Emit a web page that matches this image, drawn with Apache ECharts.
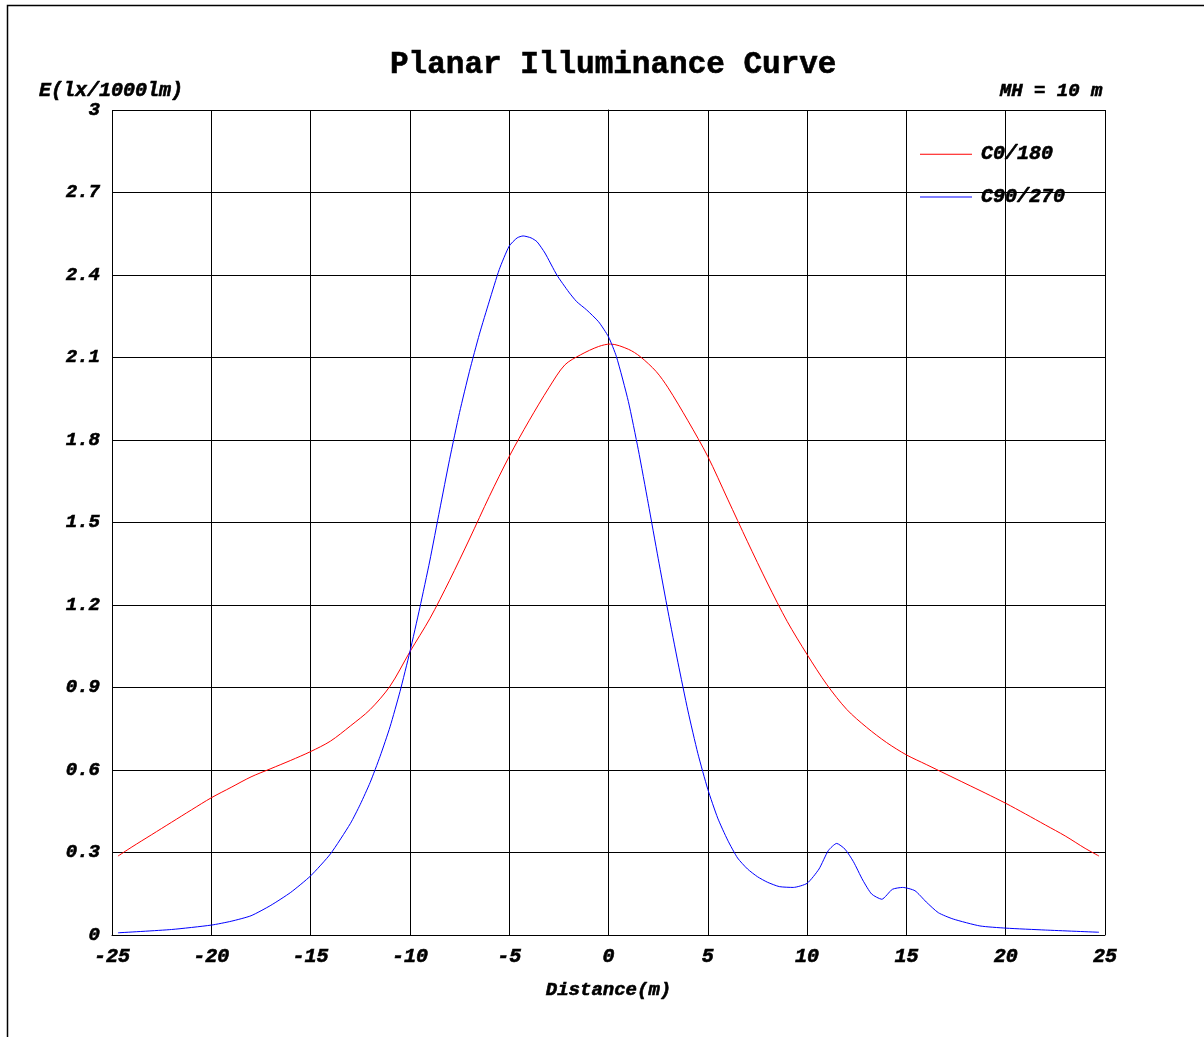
<!DOCTYPE html>
<html>
<head>
<meta charset="utf-8">
<script src="https://cdn.jsdelivr.net/npm/echarts@6/dist/echarts.min.js"></script>
<style>
html, body { margin: 0; padding: 0; background: #fff; }
#main { width: 1204px; height: 1037px; }
</style>
</head>
<body>
<div id="main"></div>
<script>
// distance ticks (m) and illuminance ticks
var xTicks = [-25, -20, -15, -10, -5, 0, 5, 10, 15, 20, 25];
var yTicks = [0, 0.3, 0.6, 0.9, 1.2, 1.5, 1.8, 2.1, 2.4, 2.7, 3];

// C0/180 plane
var c0Dist = [-24.7, -24, -23, -22, -21, -20, -19, -18, -17, -16, -15, -14, -13, -12, -11, -10, -9, -8, -7, -6, -5, -4, -3, -2.2, -1.4, -0.5, 0.1, 1, 1.6, 2.4, 3, 4, 5, 6, 7, 8, 9, 10, 11, 12, 13, 14, 15, 16, 17, 18, 19, 20, 21, 22, 23, 24, 24.7];
var c0Vals = [0.287, 0.32, 0.365, 0.41, 0.455, 0.499, 0.537, 0.575, 0.605, 0.635, 0.667, 0.705, 0.76, 0.82, 0.905, 1.03, 1.15, 1.29, 1.44, 1.595, 1.74, 1.87, 1.99, 2.073, 2.11, 2.14, 2.149, 2.13, 2.103, 2.049, 1.99, 1.87, 1.74, 1.585, 1.43, 1.28, 1.14, 1.02, 0.91, 0.82, 0.755, 0.7, 0.655, 0.62, 0.585, 0.55, 0.515, 0.479, 0.44, 0.4, 0.36, 0.315, 0.287];

// C90/270 plane
var c90Dist = [-24.7, -22, -20, -19, -18, -17, -16, -15, -14, -13, -12.5, -12, -11.5, -11, -10.5, -10, -9.5, -9, -8.5, -8, -7.5, -7, -6.5, -6, -5.5, -5, -4.6, -4.3, -3.9, -3.6, -3.2, -2.6, -2, -1.6, -1.1, -0.5, 0, 0.4, 1, 1.5, 2, 2.5, 3, 3.5, 4, 4.5, 5, 5.5, 6, 6.5, 7, 7.5, 8, 8.6, 9.3, 10, 10.6, 11.07, 11.49, 11.91, 12.33, 12.8, 13.25, 13.76, 14.29, 14.81, 15.43, 16, 16.61, 17.36, 18.7, 20, 22, 24.7];
var c90Vals = [0.008, 0.02, 0.036, 0.05, 0.07, 0.108, 0.155, 0.215, 0.295, 0.405, 0.475, 0.555, 0.65, 0.757, 0.885, 1.03, 1.19, 1.36, 1.546, 1.73, 1.9, 2.05, 2.185, 2.305, 2.42, 2.505, 2.535, 2.542, 2.535, 2.521, 2.48, 2.4, 2.338, 2.303, 2.273, 2.23, 2.175, 2.103, 1.94, 1.765, 1.57, 1.37, 1.175, 0.99, 0.815, 0.66, 0.53, 0.425, 0.345, 0.28, 0.24, 0.212, 0.192, 0.176, 0.173, 0.188, 0.24, 0.307, 0.333, 0.312, 0.267, 0.2, 0.149, 0.13, 0.166, 0.173, 0.161, 0.12, 0.081, 0.058, 0.033, 0.025, 0.018, 0.01];

function pairs(xs, ys) {
    var out = [];
    for (var i = 0; i < xs.length; i++) {
        out.push([xs[i], ys[i]]);
    }
    return out;
}

var font = '"Liberation Mono", "DejaVu Sans Mono", monospace';

// bold italic label text, a bit heavier like the original print
function labelStyle(size) {
    return {
        fontFamily: font, fontWeight: 'bold', fontStyle: 'italic', fontSize: size, color: '#000',
        textBorderColor: '#000', textBorderWidth: 0.6
    };
}

var chart = echarts.init(document.getElementById('main'));

var option = {
    backgroundColor: '#fff',
    animation: false,
    graphic: [{
        type: 'rect',
        left: 5,
        top: 3,
        shape: { width: 1400, height: 1200 },
        style: { fill: 'none', stroke: '#000', lineWidth: 1.5 },
        silent: true
    }],
    title: [{
        text: 'Planar Illuminance Curve',
        left: 385,
        top: 45,
        textStyle: { fontFamily: font, fontWeight: 'bold', fontSize: 31, color: '#000', textBorderColor: '#000', textBorderWidth: 0.6 }
    }, {
        text: 'MH = 10 m',
        right: 96,
        top: 77,
        textStyle: labelStyle(19)
    }, {
        text: 'E(lx/1000lm)',
        left: 34,
        top: 76,
        textStyle: labelStyle(20)
    }],
    legend: {
        orient: 'vertical',
        left: 915,
        top: 139,
        icon: 'rect',
        itemWidth: 52,
        itemHeight: 1,
        itemGap: 22,
        textStyle: Object.assign(labelStyle(20), { padding: [0, 0, 0, 4] }),
        data: ['C0/180', 'C90/270']
    },
    grid: { left: 112, right: 99, top: 110, bottom: 102, containLabel: false },
    xAxis: {
        type: 'value',
        min: xTicks[0],
        max: xTicks[xTicks.length - 1],
        interval: 5,
        name: 'Distance(m)',
        nameLocation: 'middle',
        nameGap: 46,
        nameTextStyle: labelStyle(19),
        axisLine: { lineStyle: { color: '#000', width: 1 } },
        axisTick: { show: false },
        axisLabel: Object.assign(labelStyle(20), { margin: 12 }),
        splitLine: { show: true, lineStyle: { color: '#000', width: 1 } }
    },
    yAxis: {
        type: 'value',
        min: yTicks[0],
        max: yTicks[yTicks.length - 1],
        interval: 0.3,
        axisLine: { show: true, lineStyle: { color: '#000', width: 1 } },
        axisTick: { show: false },
        axisLabel: Object.assign(labelStyle(19), {
            margin: 12,
            formatter: function (v) { return String(Math.round(v * 10) / 10); }
        }),
        splitLine: { show: true, lineStyle: { color: '#000', width: 1 } }
    },
    series: [{
        name: 'C0/180',
        type: 'line',
        data: pairs(c0Dist, c0Vals),
        showSymbol: false,
        smooth: 0.3,
        lineStyle: { color: '#ff0000', width: 1 },
        itemStyle: { color: '#ff0000' },
        z: 3
    }, {
        name: 'C90/270',
        type: 'line',
        data: pairs(c90Dist, c90Vals),
        showSymbol: false,
        smooth: 0.2,
        lineStyle: { color: '#0000ff', width: 1 },
        itemStyle: { color: '#0000ff' },
        z: 4
    }]
};

chart.setOption(option);
</script>
</body>
</html>
